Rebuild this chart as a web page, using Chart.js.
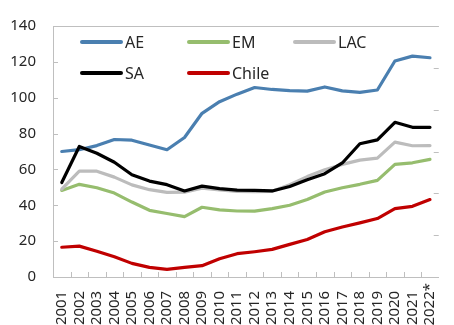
<!DOCTYPE html>
<html>
<head>
<meta charset="utf-8">
<script src="https://cdn.jsdelivr.net/npm/chart.js@4"></script>
<style>
	body { margin: 0; background: #fff; }
	.chart-box { position: relative; width: 454px; height: 325px; }
</style>
</head>
<body>
<div class="chart-box"><canvas id="debtChart"></canvas></div>
<script>
// Datos
const years = ['2001', '2002', '2003', '2004', '2005', '2006', '2007', '2008', '2009', '2010', '2011',
	'2012', '2013', '2014', '2015', '2016', '2017', '2018', '2019', '2020', '2021', '2022*'];
const yTicks = [0, 20, 40, 60, 80, 100, 120, 140];

const ae = [70, 71, 73.3, 76.7, 76.3, 73.6, 71, 77.8, 91.3, 97.8, 102, 105.7, 104.6, 104, 103.7, 106, 103.8, 103, 104.3, 120.5, 123.2, 122.3];
const em = [48.3, 51.7, 49.8, 46.8, 41.8, 37.2, 35.4, 33.7, 38.9, 37.4, 36.8, 36.7, 38.1, 40, 43.2, 47.4, 49.8, 51.7, 53.9, 62.8, 63.7, 65.6];
const lac = [49, 59, 59, 55.7, 51.4, 48.7, 47.2, 47.3, 49.5, 48.6, 47.8, 47.6, 47.8, 51.5, 56, 59.8, 62.8, 65.2, 66.3, 75.2, 73.2, 73.3];
const sa = [52.7, 72.8, 69, 64, 57, 53.5, 51.5, 48, 50.7, 49.3, 48.5, 48.3, 48, 50.5, 54.3, 57.6, 63.6, 74.3, 76.5, 86.3, 83.5, 83.5];
const chile = [16.6, 17.2, 14.4, 11.3, 7.6, 5.4, 4.3, 5.4, 6.3, 10.2, 13, 14.1, 15.4, 18.2, 20.9, 25.2, 27.9, 30.2, 32.6, 38.1, 39.4, 43.2];

const textColor = '#262626';
const axisColor = '#bfbfbf';
const fontFamily = '"Noto Sans", "Open Sans", sans-serif';

// leyenda: 3 columnas, 2 filas, dentro del grafico
const legendCols = [80, 187, 293];
const legendRows = [42, 73];

function serie(label, data, color, order) {
	return {
		label: label,
		data: data,
		borderColor: color,
		backgroundColor: color,
		borderWidth: 3.2,
		pointRadius: 0,
		tension: 0,
		borderJoinStyle: 'round',
		borderCapStyle: 'round',
		order: order
	};
}

// marcas hacia adentro, borde superior y leyenda
const frameAndLegend = {
	id: 'frameAndLegend',
	afterDatasetsDraw(chart) {
		const ctx = chart.ctx;
		const area = chart.chartArea;
		const x = chart.scales.x;
		const y = chart.scales.y;
		ctx.save();
		ctx.strokeStyle = axisColor;
		ctx.lineWidth = 1;
		ctx.beginPath();
		// borde superior
		ctx.moveTo(area.left, area.top + 0.5);
		ctx.lineTo(area.right, area.top + 0.5);
		// marcas eje y (izquierda)
		yTicks.forEach((v) => {
			const py = Math.round(y.getPixelForValue(v)) + 0.5;
			ctx.moveTo(area.left, py);
			ctx.lineTo(area.left + 5, py);
		});
		// marcas eje secundario (derecha), 6 divisiones
		for (let i = 0; i <= 6; i++) {
			const py = Math.round(area.top + (area.bottom - area.top) * i / 6) + 0.5;
			ctx.moveTo(area.right - 5, py);
			ctx.lineTo(area.right, py);
		}
		// marcas eje x entre categorias
		for (let i = 1; i < years.length; i++) {
			const px = Math.round((x.getPixelForValue(i - 1) + x.getPixelForValue(i)) / 2) + 0.5;
			ctx.moveTo(px, area.bottom);
			ctx.lineTo(px, area.bottom - 5);
		}
		ctx.stroke();

		// leyenda
		const items = [chart.data.datasets[0], chart.data.datasets[1], chart.data.datasets[2],
			chart.data.datasets[3], chart.data.datasets[4]];
		ctx.font = '16px ' + fontFamily;
		ctx.textBaseline = 'middle';
		ctx.textAlign = 'left';
		items.forEach((ds, i) => {
			const lx = legendCols[i % 3];
			const ly = legendRows[Math.floor(i / 3)];
			ctx.strokeStyle = ds.borderColor;
			ctx.lineWidth = 4;
			ctx.lineCap = 'round';
			ctx.beginPath();
			ctx.moveTo(lx + 2, ly);
			ctx.lineTo(lx + 41, ly);
			ctx.stroke();
			ctx.fillStyle = textColor;
			ctx.fillText(ds.label, lx + 45, ly + 1);
		});
		ctx.restore();
	}
};

new Chart(document.getElementById('debtChart'), {
	type: 'line',
	data: {
		labels: years,
		datasets: [
			serie('AE', ae, '#4a7fb0', 2),
			serie('EM', em, '#96bd6e', 4),
			serie('LAC', lac, '#bcbcbc', 3),
			serie('SA', sa, '#000000', 1),
			serie('Chile', chile, '#c00000', 0)
		]
	},
	options: {
		responsive: true,
		maintainAspectRatio: false,
		animation: false,
		layout: { padding: { top: 24, right: 1, left: 0, bottom: 0 } },
		plugins: {
			legend: { display: false },
			tooltip: { enabled: false }
		},
		scales: {
			x: {
				offset: true,
				grid: { display: false, drawTicks: false },
				border: { color: axisColor, width: 1 },
				ticks: {
					autoSkip: false,
					minRotation: 90,
					maxRotation: 90,
					padding: 6,
					color: textColor,
					font: { size: 15, family: fontFamily },
					callback: (v, i) => years[i].endsWith('*') ? years[i] : years[i] + '  '
				},
				afterFit: (scale) => { scale.height = 48; }
			},
			y: {
				min: 0,
				max: 140,
				grid: { display: false, drawTicks: false },
				border: { color: axisColor, width: 1 },
				afterBuildTicks: (scale) => { scale.ticks = yTicks.map((v) => ({ value: v })); },
				ticks: {
					padding: 17,
					color: textColor,
					font: { size: 15, family: fontFamily }
				},
				afterFit: (scale) => { scale.width = 53; }
			}
		}
	},
	plugins: [frameAndLegend]
});
</script>
</body>
</html>
